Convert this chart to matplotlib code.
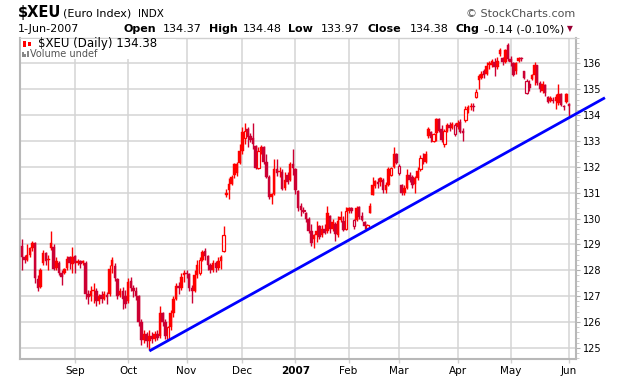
import numpy as np
import pandas as pd
import matplotlib
matplotlib.use('Agg')
import matplotlib.pyplot as plt
from matplotlib.patches import Rectangle

# trading days shown on the chart (exchange holidays removed)
holidays = ['2006-09-04', '2006-11-23', '2006-12-25', '2007-01-01', '2007-01-02',
            '2007-01-15', '2007-02-19', '2007-04-06', '2007-05-28']
days = pd.bdate_range('2006-08-04', '2007-06-01')
days = days[~days.isin(pd.to_datetime(holidays))]

# daily (open, high, low, close), one list per month
aug = [(128.95, 129.2, 128.0, 128.5), (128.5, 128.6, 128.3, 128.4), (128.4, 129.0, 128.35, 128.6),
       (128.6, 128.9, 128.5, 128.85), (128.85, 129.15, 128.75, 129.05), (129.05, 129.1, 127.5, 127.7),
       (127.65, 127.8, 127.2, 127.3), (127.35, 128.1, 127.3, 128.0), (128.3, 128.8, 128.2, 128.65),
       (128.65, 128.7, 128.2, 128.35), (128.4, 128.6, 128.0, 128.45), (129.05, 129.5, 128.8, 128.85),
       (128.9, 129.0, 128.0, 128.05), (128.1, 128.5, 128.0, 128.35), (128.3, 128.35, 127.8, 127.9),
       (127.9, 128.0, 127.45, 127.75), (127.9, 128.1, 127.85, 128.05), (128.1, 128.55, 128.0, 128.45),
       (128.5, 128.55, 128.05, 128.3), (128.25, 128.9, 127.9, 128.5)]
sep = [(128.55, 128.6, 127.9, 128.3), (128.3, 128.45, 128.2, 128.35), (128.35, 128.4, 128.1, 128.25),
       (128.3, 128.4, 128.2, 128.3), (128.3, 128.35, 126.9, 127.1), (127.1, 127.25, 126.7, 126.95),
       (127.0, 127.4, 126.8, 127.2), (127.2, 127.5, 126.75, 127.25), (127.2, 127.3, 126.6, 126.8),
       (126.8, 127.1, 126.7, 127.0), (127.05, 127.2, 126.75, 126.9), (126.9, 127.2, 126.85, 127.1),
       (127.05, 127.15, 126.7, 126.95), (127.1, 128.2, 127.0, 128.05), (128.4, 128.5, 127.9, 128.15),
       (128.15, 128.3, 127.6, 127.7), (127.65, 127.7, 126.9, 127.0), (127.05, 127.3, 126.95, 127.2),
       (127.2, 127.35, 126.5, 126.9), (127.0, 127.25, 126.55, 126.7)]
oct_ = [(126.8, 127.7, 126.75, 127.55), (127.6, 127.75, 127.2, 127.3), (127.3, 127.45, 126.95, 127.2),
        (127.2, 127.35, 126.85, 127.0), (127.0, 127.05, 125.85, 126.0), (126.0, 126.1, 125.1, 125.3),
        (125.3, 125.7, 125.2, 125.55), (125.55, 125.6, 125.05, 125.25), (125.25, 125.7, 124.9, 125.45),
        (125.45, 125.6, 125.2, 125.35), (125.35, 125.65, 125.25, 125.55), (125.55, 125.7, 125.3, 125.4),
        (125.45, 126.6, 125.4, 126.35), (126.35, 126.4, 125.85, 126.0), (126.0, 126.1, 125.35, 125.45),
        (125.35, 125.85, 125.3, 125.8), (125.8, 126.45, 125.7, 126.35), (126.35, 127.0, 126.2, 126.9),
        (126.9, 127.5, 126.85, 127.4), (127.4, 127.55, 127.1, 127.3), (127.3, 127.9, 127.25, 127.75),
        (127.8, 128.0, 127.55, 127.9)]
nov = [(127.9, 128.0, 127.7, 127.85), (127.85, 127.9, 127.2, 127.3), (127.3, 127.45, 126.75, 127.2),
       (127.2, 128.0, 127.15, 127.8), (127.8, 128.4, 127.7, 128.2), (127.9, 128.5, 127.8, 128.4),
       (128.4, 128.8, 128.35, 128.7), (128.75, 128.85, 128.4, 128.55), (128.55, 128.6, 128.0, 128.2),
       (128.2, 128.3, 127.9, 128.0), (128.0, 128.4, 127.95, 128.3), (128.3, 128.35, 127.95, 128.1),
       (128.1, 128.5, 128.0, 128.35), (128.35, 128.6, 128.05, 128.5), (128.75, 129.7, 128.7, 129.35),
       (130.9, 131.15, 130.85, 131.0), (131.1, 131.55, 130.75, 131.35), (131.35, 131.7, 131.3, 131.6),
       (132.1, 132.15, 131.55, 131.7), (131.75, 132.2, 131.65, 132.1), (132.15, 132.9, 132.1, 132.6)]
dec = [(132.6, 133.55, 132.5, 133.35), (133.1, 133.7, 132.9, 133.4), (133.45, 133.55, 132.75, 133.15),
       (133.2, 133.3, 132.95, 133.05), (133.1, 133.7, 132.7, 132.9), (132.8, 132.85, 131.9, 131.95),
       (131.95, 132.75, 131.9, 132.6), (132.6, 132.85, 132.5, 132.75), (132.75, 132.8, 132.1, 132.2),
       (132.2, 132.5, 131.55, 131.6), (131.6, 131.7, 130.75, 130.85), (130.85, 131.0, 130.55, 130.95),
       (130.95, 132.3, 130.9, 131.9), (131.9, 132.3, 131.65, 131.75), (131.8, 132.0, 131.6, 131.85),
       (131.8, 131.9, 131.1, 131.15), (131.2, 131.8, 131.1, 131.5), (131.7, 131.8, 131.35, 131.4),
       (131.5, 132.2, 131.45, 132.1), (132.1, 132.7, 131.7, 131.95)]
jan = [(131.9, 131.95, 130.95, 131.1), (131.05, 131.1, 130.3, 130.4), (130.5, 130.6, 130.1, 130.35),
       (130.35, 130.45, 130.2, 130.3), (130.2, 130.25, 129.85, 130.0), (130.0, 130.05, 129.45, 129.5),
       (129.5, 129.8, 128.95, 129.05), (129.2, 129.4, 128.85, 129.35), (129.35, 129.9, 129.1, 129.5),
       (129.7, 129.75, 129.2, 129.3), (129.35, 129.75, 129.3, 129.6), (129.6, 129.8, 129.4, 129.45),
       (129.5, 130.5, 129.45, 130.2), (130.1, 130.15, 129.45, 129.6), (129.6, 130.0, 129.5, 129.85),
       (129.8, 129.85, 129.15, 129.4), (129.35, 130.1, 129.3, 129.9), (130.05, 130.3, 129.85, 129.95),
       (129.9, 130.1, 129.5, 129.55), (129.6, 130.45, 129.55, 130.3)]
feb = [(130.3, 130.45, 130.2, 130.4), (130.4, 130.45, 130.2, 130.3), (129.7, 130.0, 129.6, 129.95),
       (129.95, 130.5, 129.9, 130.4), (130.45, 130.5, 130.0, 130.05), (130.1, 130.25, 129.9, 129.95),
       (129.85, 129.9, 129.6, 129.7), (129.65, 129.8, 129.6, 129.75), (130.2, 130.6, 130.2, 130.5),
       (130.9, 131.6, 130.9, 131.3), (131.25, 131.5, 131.2, 131.45), (131.4, 131.55, 131.2, 131.35),
       (131.4, 131.6, 131.25, 131.55), (131.5, 131.55, 131.0, 131.1), (131.1, 131.4, 131.0, 131.3),
       (131.3, 132.0, 131.25, 131.9), (131.7, 132.0, 131.65, 131.95), (132.0, 132.75, 131.95, 132.5),
       (132.5, 132.55, 132.1, 132.15)]
mar = [(131.75, 132.1, 131.7, 132.05), (131.3, 131.35, 130.9, 131.0), (131.0, 131.3, 130.9, 131.2),
       (131.2, 131.9, 131.15, 131.7), (131.7, 131.8, 131.4, 131.5), (131.6, 131.7, 131.2, 131.3),
       (131.35, 131.65, 131.0, 131.55), (131.55, 132.0, 131.5, 131.85), (131.9, 132.45, 131.85, 132.35),
       (132.3, 132.55, 132.1, 132.2), (132.2, 132.6, 132.15, 132.5), (133.2, 133.55, 133.1, 133.45),
       (133.35, 133.4, 132.95, 133.1), (133.0, 133.3, 132.95, 133.25), (133.3, 133.9, 133.0, 133.85),
       (133.85, 133.9, 133.35, 133.4), (133.45, 133.6, 132.95, 133.05), (132.9, 133.45, 132.75, 133.4),
       (133.4, 133.7, 133.35, 133.6), (133.6, 133.75, 133.4, 133.5), (133.5, 133.75, 133.45, 133.65),
       (133.25, 133.7, 133.2, 133.6)]
apr = [(133.55, 133.8, 133.45, 133.7), (133.75, 133.85, 133.3, 133.35), (133.4, 133.5, 133.0, 133.3),
       (133.8, 134.35, 133.75, 134.25), (134.2, 134.4, 134.1, 134.3), (134.3, 134.45, 134.2, 134.35),
       (134.35, 134.45, 134.15, 134.3), (134.7, 135.0, 134.65, 134.9), (135.35, 135.6, 135.0, 135.5),
       (135.45, 135.7, 135.4, 135.6), (135.7, 135.8, 135.45, 135.55), (135.6, 136.05, 135.55, 135.9),
       (135.95, 136.1, 135.8, 136.0), (135.95, 136.15, 135.85, 136.1), (136.05, 136.2, 135.5, 135.85),
       (135.85, 136.25, 135.8, 136.1), (136.35, 136.6, 136.3, 136.5), (136.2, 136.25, 135.95, 136.05),
       (136.05, 136.55, 136.0, 136.5), (136.7, 136.8, 136.1, 136.15)]
may = [(136.15, 136.3, 135.9, 136.05), (136.0, 136.05, 135.5, 135.55), (136.0, 136.05, 135.6, 135.7),
       (136.1, 136.25, 136.05, 136.2), (136.2, 136.25, 136.1, 136.15), (135.7, 135.7, 135.4, 135.45),
       (134.85, 135.4, 134.8, 135.3), (135.2, 135.35, 134.95, 135.05), (135.4, 135.6, 135.35, 135.55),
       (135.55, 136.05, 135.15, 135.95), (135.95, 135.95, 135.15, 135.25), (135.25, 135.3, 134.9, 135.0),
       (134.95, 135.3, 134.85, 135.2), (135.15, 135.2, 134.75, 134.85), (134.7, 134.75, 134.45, 134.5),
       (134.55, 134.75, 134.5, 134.65), (134.6, 134.7, 134.45, 134.55), (134.55, 134.8, 134.25, 134.7),
       (134.45, 135.2, 134.4, 134.8), (134.8, 134.85, 134.35, 134.4), (134.3, 134.38, 134.2, 134.32),
       (134.8, 134.85, 134.45, 134.52)]
jun = [(134.37, 134.48, 133.97, 134.38)]

# candles that show as hollow (open body) in the chart
hollow_dates = ['2006-10-23', '2006-11-08', '2006-11-21', '2006-12-04', '2006-12-11',
                '2007-01-08', '2007-01-31', '2007-02-05', '2007-02-12', '2007-02-26',
                '2007-03-01', '2007-03-13', '2007-03-20', '2007-03-26', '2007-03-30',
                '2007-04-05', '2007-04-12', '2007-05-09']

month_labels = ['Sep', 'Oct', 'Nov', 'Dec', '2007', 'Feb', 'Mar', 'Apr', 'May', 'Jun']
price_ticks = list(range(125, 137))

# hand-drawn support line from the October low
trend_dates = ['2006-10-12', '2007-06-01']
trend_values = [124.88, 133.9]

bars = np.array(aug + sep + oct_ + nov + dec + jan + feb + mar + apr + may + jun)
o, h, l, c = bars.T
x = np.arange(len(days))

W, H = 620, 379
fig = plt.figure(figsize=(W / 100, H / 100), dpi=100)


def fx(px):
    return px / W


def fy(py):
    return 1 - py / H


ax = fig.add_axes([fx(20), fy(359), fx(576) - fx(20), fy(37.5) - fy(359)])

prev = np.r_[o[0], c[:-1]]
col = np.where(c >= prev, '#ff0000', '#cc0033')
hollow = days.isin(pd.to_datetime(hollow_dates))
lo = np.minimum(o, c)
hb = np.maximum(np.abs(c - o), 0.05)

ax.vlines(x, l, h, colors=col, lw=1.0, zorder=3)
ax.bar(x[~hollow], hb[~hollow], bottom=lo[~hollow], width=0.95,
       color=col[~hollow], edgecolor=col[~hollow], lw=0.3, zorder=4)
ax.bar(x[hollow], hb[hollow], bottom=lo[hollow], width=1.0,
       facecolor='white', edgecolor=col[hollow], lw=0.9, zorder=4)

# trendline, runs on past the price axis like the original
tx = [days.get_loc(pd.Timestamp(d)) for d in trend_dates]
slope = (trend_values[1] - trend_values[0]) / (tx[1] - tx[0])
x_end = tx[1] + 13.5
ax.plot([tx[0], x_end], [trend_values[0], trend_values[0] + slope * (x_end - tx[0])],
        color='#0000ff', lw=2, clip_on=False, zorder=6, solid_capstyle='butt')

month_pos = [i for i in range(1, len(days)) if days[i].month != days[i - 1].month]
ax.set_xlim(-0.7, 208.6)
ax.set_ylim(124.57, 137.0)
ax.set_xticks(month_pos)
ax.set_xticklabels(month_labels)
ax.get_xticklabels()[4].set_fontweight('bold')
ax.set_yticks(price_ticks)
ax.set_yticks(np.arange(124.6, 137.0, 0.2), minor=True)
ax.yaxis.tick_right()
ax.tick_params(axis='y', which='major', length=3, width=0.8, color='#b0b0b0', labelsize=7, pad=2)
ax.tick_params(axis='y', which='minor', length=2, width=0.6, color='#c4c4c4')
ax.tick_params(axis='x', length=3, width=1, color='#d0d0d0', labelsize=7.5, pad=2)
ax.grid(True, which='major', color='#d4d4d4', lw=1.1)
ax.set_axisbelow(True)
for s in ['left', 'bottom', 'right']:
    ax.spines[s].set_color('#b8b8b8')
    ax.spines[s].set_linewidth(1.5)
ax.spines['top'].set_color('#d0d0d0')
ax.spines['top'].set_linewidth(1)

# legend block inside the plot
fig.add_artist(Rectangle((fx(21), fy(59)), fx(176) - fx(21), fy(38.5) - fy(59),
                         transform=fig.transFigure, facecolor='white', edgecolor='none', zorder=2))
fig.add_artist(Rectangle((fx(23), fy(47)), fx(3), fy(0) - fy(6), transform=fig.transFigure,
                         facecolor='#ff0000', edgecolor='none', zorder=3))
fig.add_artist(Rectangle((fx(28), fy(46)), fx(3), fy(0) - fy(4), transform=fig.transFigure,
                         facecolor='#ff0000', edgecolor='none', zorder=3))
fig.text(fx(38), fy(47), r'\$XEU (Daily) 134.38', fontsize=8.5, va='baseline', zorder=4)
for px_, ph in [(22, 5), (24.5, 3), (27, 6)]:
    fig.add_artist(Rectangle((fx(px_), fy(57)), fx(1.5), fy(0) - fy(ph), transform=fig.transFigure,
                             facecolor='#888888', edgecolor='none', zorder=3))
fig.text(fx(30), fy(57), 'Volume undef', fontsize=7, color='#555555', va='baseline', zorder=4)

# header
fig.text(fx(18), fy(17), r'\$XEU', fontsize=10.5, fontweight='bold', va='baseline')
fig.text(fx(63), fy(17), '(Euro Index)', fontsize=8, va='baseline')
fig.text(fx(138), fy(17), 'INDX', fontsize=7.5, va='baseline')
fig.text(fx(575), fy(17), '\u00a9 StockCharts.com', fontsize=8, color='#505050', va='baseline', ha='right')
fig.text(fx(18), fy(32), '1-Jun-2007', fontsize=8, va='baseline')
for px_, s, bold in [(124, 'Open', True), (163, '134.37', False), (209, 'High', True),
                     (243, '134.48', False), (288, 'Low', True), (321, '133.97', False),
                     (367, 'Close', True), (410, '134.38', False), (455, 'Chg', True),
                     (484, '-0.14 (-0.10%)', False)]:
    fig.text(fx(px_), fy(32), s, fontsize=8, fontweight='bold' if bold else 'normal', va='baseline')
fig.text(fx(567), fy(31), '\u25bc', fontsize=5.5, color='#990033', va='baseline')

fig.savefig('out.png', dpi=100)
